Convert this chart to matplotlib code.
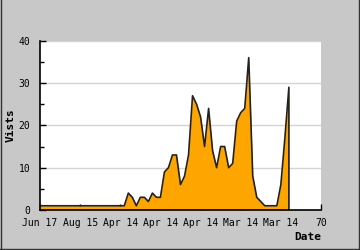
import matplotlib
matplotlib.use("Agg")
import matplotlib.pyplot as plt
from matplotlib.lines import Line2D

# daily visits
days = list(range(0, 63))
visits = [1] * 22 + [4, 3, 1, 3, 3, 2, 4, 3, 3, 9, 10, 13, 13,
                      6, 8, 13, 27, 25, 22, 15, 24, 14, 10, 15, 15, 10, 11,
                      21, 23, 24, 36, 8, 3, 2, 1, 1, 1, 1, 6, 17, 29]
tick_pos = [0, 10, 20, 30, 40, 50, 60, 70]
tick_labels = ["Jun 17", "Aug 15", "Apr 14", "Apr 14", "Apr 14", "Mar 14", "Mar 14", "70"]

plt.rcParams['font.family'] = ['DejaVu Sans Mono']

fig = plt.figure(figsize=(3.6, 2.5), dpi=100, facecolor="#c8c8c8")
ax = fig.add_axes([40/360, 40/250, 281/360, 169.3/250])
ax.set_facecolor("white")

# thin dark frame on left, bottom and right of the image
for xs, ys in [([0.0015, 0.0015], [0, 1]), ([0, 1], [0.003, 0.003]), ([0.9965, 0.9965], [0, 1])]:
    fig.add_artist(Line2D(xs, ys, transform=fig.transFigure, color="#333333", linewidth=1))

ax.fill_between(days, visits, 0, color="#ffa500", linewidth=0)
ax.plot(days + [days[-1]], visits + [0], color="#222222", linewidth=1.2)

ax.set_xlim(0, 70)
ax.set_ylim(0, 40)
ax.set_xticks(tick_pos)
ax.set_xticklabels(tick_labels, fontsize=7)
ax.set_yticks([0, 10, 20, 30, 40])
ax.set_yticks([5, 15, 25, 35], minor=True)
ax.tick_params(axis="both", direction="in", length=4, width=1, labelsize=7)
ax.tick_params(axis="x", pad=6)
ax.tick_params(axis="y", pad=7)
ax.tick_params(axis="y", which="minor", direction="in", length=3, width=1)
ax.grid(axis="y", color="#d4d4d4", linewidth=1)
ax.set_axisbelow(True)

for s in ["top", "right"]:
    ax.spines[s].set_visible(False)
for s in ["left", "bottom"]:
    ax.spines[s].set_linewidth(1.2)
    ax.spines[s].set_zorder(5)

ax.set_ylabel("Vists", fontsize=8, fontweight="bold", labelpad=2)
ax.set_xlabel("Date", fontsize=8, fontweight="bold", loc="right", labelpad=3)

fig.savefig("out.png", dpi=100, facecolor=fig.get_facecolor())
